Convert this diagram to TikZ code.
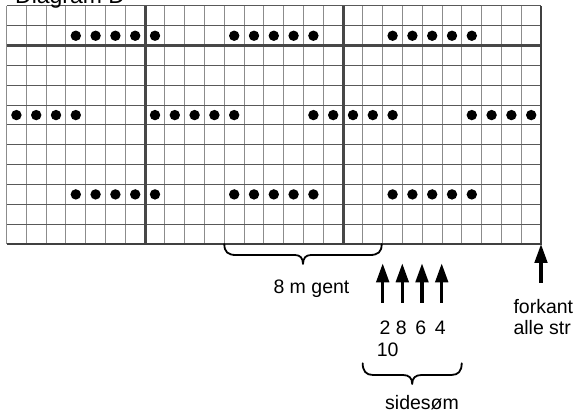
\documentclass[tikz,border=0pt]{standalone}
\usepackage{fontspec}
\setmainfont{Liberation Sans}
\usetikzlibrary{arrows.meta}
\begin{document}
\begin{tikzpicture}[x=1pt,y=-1pt,
  vline/.style={draw=black!45, line width=1pt},
  hline/.style={draw=black!65, line width=1pt},
  heavyline/.style={draw=black!72, line width=3pt},
  edgeline/.style={draw=black!75, line width=1.6pt},
  dot/.style={fill=black},
  lbl/.style={inner sep=0pt, font=\fontsize{19.5}{22}\selectfont},
  uparrow/.style={line width=3.3pt, -{Triangle[width=12.5pt,length=19pt]}},
  bracepath/.style={line width=1.8pt, line cap=round, line join=round}
]
\useasboundingbox (0,0) rectangle (579,419);
\fill[white] (0,0) rectangle (579,419);
% grid
\foreach \i in {0,...,27} \draw[vline] ({6.5+19.8*\i},6) -- ({6.5+19.8*\i},244);
\foreach \j in {0,...,12} \draw[hline] (6.5,{6+19.833*\j}) -- (541.1,{6+19.833*\j});
\draw[heavyline] ({6.5+19.8*7},6) -- ({6.5+19.8*7},244);
\draw[heavyline] ({6.5+19.8*17},6) -- ({6.5+19.8*17},244);
\draw[heavyline] (6.5,{6+19.833*2}) -- (541.1,{6+19.833*2});
\draw[edgeline] (6.5,244) -- (541.1,244) -- (541.1,6);
% dots
\foreach \r in {2,10}
  \foreach \c in {4,5,6,7,8,12,13,14,15,16,20,21,22,23,24}
    \fill[dot] ({6.5+19.8*(\c-0.5)},{6+19.833*(\r-0.5)}) circle (5.2);
\foreach \c in {1,2,3,4,8,9,10,11,12,16,17,18,19,20,24,25,26,27}
  \fill[dot] ({6.5+19.8*(\c-0.5)},{6+19.833*(6-0.5)}) circle (5.2);
% title
\node[lbl, anchor=base west, font=\fontsize{23}{26}\selectfont] (title) at (15,3.5) {Diagram D};
% arrows
\coordinate (a1s) at (382.7,302.7); \coordinate (a1t) at (382.7,263.3);
\coordinate (a2s) at (402.3,302.7); \coordinate (a2t) at (402.3,263.3);
\coordinate (a3s) at (422.0,302.7); \coordinate (a3t) at (422.0,263.3);
\coordinate (a4s) at (441.7,302.7); \coordinate (a4t) at (441.7,263.3);
\coordinate (fs) at (541,282.7); \coordinate (ft) at (541,244);
\draw[uparrow] (a1s) -- (a1t);
\draw[uparrow] (a2s) -- (a2t);
\draw[uparrow] (a3s) -- (a3t);
\draw[uparrow] (a4s) -- (a4t);
\draw[uparrow] (fs) -- (ft);
% braces
\coordinate (b1l) at (224.3,244); \coordinate (b1r) at (381.7,244);
\draw[bracepath] (b1l) .. controls (224.3,252) and (228,255) .. (236,255) -- (295,255)
  .. controls (300,255) and (303,258) .. (303,264)
  .. controls (303,258) and (306,255) .. (311,255) -- (370,255)
  .. controls (378,255) and (381.7,252) .. (b1r);
\coordinate (b2l) at (362.7,363.3); \coordinate (b2r) at (461.7,363.3);
\draw[bracepath] (b2l) .. controls (362.7,371) and (366,375) .. (373,375) -- (403,375)
  .. controls (409,375) and (412.2,378) .. (412.2,384)
  .. controls (412.2,378) and (415.4,375) .. (421.4,375) -- (451.4,375)
  .. controls (458.4,375) and (461.7,371) .. (b2r);
% labels
\node[lbl, anchor=base west] (gent) at (273.3,293.3) {8 m gent};
\node[lbl, anchor=base west] (fork) at (513.3,314) {forkant};
\node[lbl, anchor=base west] (alle) at (513.3,335) {alle str};
\node[lbl, anchor=base west] (nums) at (379.5,335) {2 8\hspace{3.2pt} 6\hspace{3.2pt} 4};
\node[lbl, anchor=base west] (ten) at (376.7,356.7) {10};
\node[lbl, anchor=base west] (side) at (385,409.3) {sidesøm};
\end{tikzpicture}
\end{document}
